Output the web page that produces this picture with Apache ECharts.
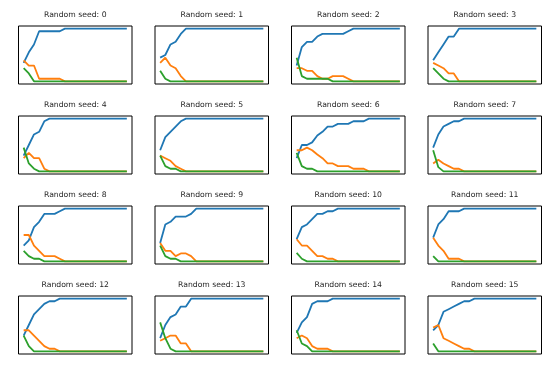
<!DOCTYPE html>
<html>
<head>
<meta charset="utf-8">
<script src="https://cdn.jsdelivr.net/npm/echarts@6/dist/echarts.min.js"></script>
<style>html,body{margin:0;padding:0;background:#fff;}#c{width:560px;height:373px;}</style>
</head>
<body>
<div id="c"></div>
<script>
// Generation index (x values)
const steps = [0,1,2,3,4,5,6,7,8,9,10,11,12,13,14,15,16,17,18,19,20];
const seeds = [0,1,2,3,4,5,6,7,8,9,10,11,12,13,14,15];

// Blue series per seed
const blue = [
  [0.35,0.55,0.70,0.95,0.95,0.95,0.95,0.95,1,1,1,1,1,1,1,1,1,1,1,1,1],
  [0.45,0.50,0.70,0.75,0.90,1,1,1,1,1,1,1,1,1,1,1,1,1,1,1,1],
  [0.30,0.65,0.75,0.75,0.85,0.90,0.90,0.90,0.90,0.90,0.95,1,1,1,1,1,1,1,1,1,1],
  [0.40,0.55,0.70,0.85,0.85,1,1,1,1,1,1,1,1,1,1,1,1,1,1,1,1],
  [0.30,0.50,0.70,0.75,0.95,1,1,1,1,1,1,1,1,1,1,1,1,1,1,1,1],
  [0.40,0.65,0.75,0.85,0.95,1,1,1,1,1,1,1,1,1,1,1,1,1,1,1,1],
  [0.25,0.50,0.50,0.55,0.68,0.75,0.85,0.85,0.90,0.90,0.90,0.95,0.95,0.95,1,1,1,1,1,1,1],
  [0.45,0.70,0.85,0.90,0.95,0.95,1,1,1,1,1,1,1,1,1,1,1,1,1,1,1],
  [0.30,0.40,0.65,0.75,0.90,0.90,0.90,0.95,1,1,1,1,1,1,1,1,1,1,1,1,1],
  [0.35,0.70,0.75,0.85,0.85,0.85,0.90,1,1,1,1,1,1,1,1,1,1,1,1,1,1],
  [0.42,0.65,0.70,0.80,0.90,0.90,0.95,0.95,1,1,1,1,1,1,1,1,1,1,1,1,1],
  [0.45,0.70,0.80,0.95,0.95,0.95,1,1,1,1,1,1,1,1,1,1,1,1,1,1,1],
  [0.30,0.50,0.70,0.80,0.90,0.95,0.95,1,1,1,1,1,1,1,1,1,1,1,1,1,1],
  [0.25,0.50,0.65,0.70,0.85,0.85,1,1,1,1,1,1,1,1,1,1,1,1,1,1,1],
  [0.35,0.55,0.65,0.90,0.95,0.95,0.95,1,1,1,1,1,1,1,1,1,1,1,1,1,1],
  [0.40,0.50,0.75,0.80,0.85,0.90,0.95,0.95,1,1,1,1,1,1,1,1,1,1,1,1,1]
];

// Orange series per seed
const orange = [
  [0.40,0.30,0.30,0.05,0.05,0.05,0.05,0.05,0,0,0,0,0,0,0,0,0,0,0,0,0],
  [0.35,0.45,0.30,0.25,0.10,0,0,0,0,0,0,0,0,0,0,0,0,0,0,0,0],
  [0.25,0.25,0.20,0.20,0.10,0.05,0.05,0.10,0.10,0.10,0.05,0,0,0,0,0,0,0,0,0,0],
  [0.35,0.30,0.25,0.15,0.15,0,0,0,0,0,0,0,0,0,0,0,0,0,0,0,0],
  [0.25,0.35,0.25,0.25,0.05,0,0,0,0,0,0,0,0,0,0,0,0,0,0,0,0],
  [0.30,0.25,0.20,0.10,0.05,0,0,0,0,0,0,0,0,0,0,0,0,0,0,0,0],
  [0.40,0.40,0.45,0.40,0.32,0.25,0.15,0.15,0.10,0.10,0.10,0.05,0.05,0.05,0,0,0,0,0,0,0],
  [0.15,0.22,0.15,0.10,0.05,0.05,0,0,0,0,0,0,0,0,0,0,0,0,0,0,0],
  [0.50,0.50,0.30,0.20,0.10,0.10,0.10,0.05,0,0,0,0,0,0,0,0,0,0,0,0,0],
  [0.35,0.20,0.20,0.10,0.15,0.15,0.10,0,0,0,0,0,0,0,0,0,0,0,0,0,0],
  [0.42,0.30,0.30,0.20,0.10,0.10,0.05,0.05,0,0,0,0,0,0,0,0,0,0,0,0,0],
  [0.45,0.30,0.20,0.05,0.05,0.05,0,0,0,0,0,0,0,0,0,0,0,0,0,0,0],
  [0.40,0.40,0.30,0.20,0.10,0.05,0.05,0,0,0,0,0,0,0,0,0,0,0,0,0,0],
  [0.20,0.25,0.30,0.30,0.15,0.15,0,0,0,0,0,0,0,0,0,0,0,0,0,0,0],
  [0.25,0.30,0.25,0.10,0.05,0.05,0.05,0,0,0,0,0,0,0,0,0,0,0,0,0,0],
  [0.45,0.50,0.25,0.20,0.15,0.10,0.05,0.05,0,0,0,0,0,0,0,0,0,0,0,0,0]
];

// Green series per seed
const green = [
  [0.25,0.15,0,0,0,0,0,0,0,0,0,0,0,0,0,0,0,0,0,0,0],
  [0.20,0.05,0,0,0,0,0,0,0,0,0,0,0,0,0,0,0,0,0,0,0],
  [0.45,0.10,0.05,0.05,0.05,0.05,0.05,0,0,0,0,0,0,0,0,0,0,0,0,0,0],
  [0.25,0.15,0.05,0,0,0,0,0,0,0,0,0,0,0,0,0,0,0,0,0,0],
  [0.45,0.15,0.05,0,0,0,0,0,0,0,0,0,0,0,0,0,0,0,0,0,0],
  [0.30,0.10,0.05,0.05,0,0,0,0,0,0,0,0,0,0,0,0,0,0,0,0,0],
  [0.35,0.10,0.05,0.05,0,0,0,0,0,0,0,0,0,0,0,0,0,0,0,0,0],
  [0.40,0.08,0,0,0,0,0,0,0,0,0,0,0,0,0,0,0,0,0,0,0],
  [0.20,0.10,0.05,0.05,0,0,0,0,0,0,0,0,0,0,0,0,0,0,0,0,0],
  [0.30,0.10,0.05,0.05,0,0,0,0,0,0,0,0,0,0,0,0,0,0,0,0,0],
  [0.16,0.05,0,0,0,0,0,0,0,0,0,0,0,0,0,0,0,0,0,0,0],
  [0.10,0,0,0,0,0,0,0,0,0,0,0,0,0,0,0,0,0,0,0,0],
  [0.30,0.10,0,0,0,0,0,0,0,0,0,0,0,0,0,0,0,0,0,0,0],
  [0.55,0.25,0.05,0,0,0,0,0,0,0,0,0,0,0,0,0,0,0,0,0,0],
  [0.40,0.15,0.10,0,0,0,0,0,0,0,0,0,0,0,0,0,0,0,0,0,0],
  [0.15,0,0,0,0,0,0,0,0,0,0,0,0,0,0,0,0,0,0,0,0]
];

const colors = ['#1f77b4', '#ff7f0e', '#2ca02c'];
const colLeft = [18.5, 155, 291.5, 428];
const rowTop = [26, 116, 206, 296];
const W = 113.5, H = 58;

const grids = [], xAxes = [], yAxes = [], series = [], titles = [];
seeds.forEach(function (s, i) {
  const r = Math.floor(i / 4), c = i % 4;
  grids.push({
    left: colLeft[c], top: rowTop[r], width: W, height: H,
    show: true, borderColor: '#000', borderWidth: 1, backgroundColor: '#fff'
  });
  xAxes.push({
    type: 'value', gridIndex: i, min: -1, max: 21,
    axisLine: {show: false}, axisTick: {show: false}, axisLabel: {show: false}, splitLine: {show: false}
  });
  yAxes.push({
    type: 'value', gridIndex: i, min: -0.05, max: 1.05,
    axisLine: {show: false}, axisTick: {show: false}, axisLabel: {show: false}, splitLine: {show: false}
  });
  [blue[i], orange[i], green[i]].forEach(function (arr, k) {
    series.push({
      type: 'line', xAxisIndex: i, yAxisIndex: i,
      data: steps.map(function (x, j) { return [x, arr[j]]; }),
      symbol: 'none', showSymbol: false, silent: true,
      lineStyle: {color: colors[k], width: 1.8},
      itemStyle: {color: colors[k]},
      z: 2 + k
    });
  });
  titles.push({
    text: 'Random seed: ' + s,
    left: colLeft[c] + W / 2, top: rowTop[r] - 15, textAlign: 'center', padding: 0,
    textStyle: {fontSize: 7.7, fontWeight: 'normal', color: '#262626', fontFamily: 'DejaVu Sans'}
  });
});

const chart = echarts.init(document.getElementById('c'), null, {renderer: 'canvas'});
chart.setOption({
  animation: false,
  backgroundColor: '#fff',
  title: titles,
  grid: grids,
  xAxis: xAxes,
  yAxis: yAxes,
  series: series
});
</script>
</body>
</html>
